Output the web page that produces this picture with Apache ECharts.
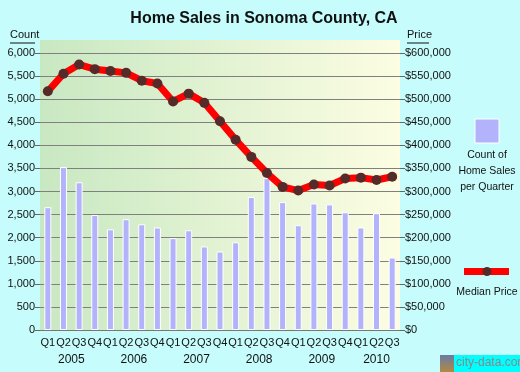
<!DOCTYPE html>
<html><head><meta charset="utf-8">
<script src="https://cdn.jsdelivr.net/npm/echarts@6/dist/echarts.min.js"></script>
<style>html,body{margin:0;padding:0;background:#c6fcfc}#c{width:520px;height:372px}</style>
</head><body><div id="c"></div>
<script>
const quarters = ['Q1','Q2','Q3','Q4','Q1','Q2','Q3','Q4','Q1','Q2','Q3','Q4','Q1','Q2','Q3','Q4','Q1','Q2','Q3','Q4','Q1','Q2','Q3'];
const years = ['2005','2006','2007','2008','2009','2010'];
const quartersPerYear = [4,4,4,4,4,3];
const salesCount = [2660,3530,3200,2490,2180,2400,2290,2220,1990,2160,1810,1700,1900,2880,3290,2770,2270,2740,2720,2550,2220,2530,1570];
const medianPrice = [517000,555000,575000,565000,561000,557000,540000,534000,495000,512000,492000,452000,412000,375000,340000,310000,302000,315000,313000,328000,330000,325000,332000];
const countTicks = {min:0, max:6000, interval:500};
const priceTicks = {min:0, max:600000, interval:50000};

const yearCenters = {};
let start = 0;
years.forEach((y,i)=>{ yearCenters[(start + quartersPerYear[i]/2).toFixed(1)] = y; start += quartersPerYear[i]; });

const font = 'Liberation Sans, Arial, sans-serif';
const chart = echarts.init(document.getElementById('c'));
chart.setOption({
  backgroundColor:'#c6fcfc',
  animation:false,
  title:{text:'Home Sales in Sonoma County, CA', left:259, top:6, textAlign:'center',
    textStyle:{fontFamily:font, fontSize:16, fontWeight:'bold', color:'#111'}},
  grid:{left:40, right:120, top:53, bottom:42},
  graphic:[
    {type:'rect', z:-100, shape:{x:40,y:40,width:360,height:290},
      style:{fill:new echarts.graphic.LinearGradient(0,0,1,0,[{offset:0,color:'#c8e8c2'},{offset:1,color:'#fcfde2'}])}},
    {type:'text', left:10, top:29, style:{text:'Count', font:'11px '+font, fill:'#111'}},
    {type:'line', shape:{x1:10,y1:43,x2:35,y2:43}, style:{stroke:'#111', lineWidth:1}},
    {type:'text', left:407, top:29, style:{text:'Price', font:'11px '+font, fill:'#111'}},
    {type:'line', shape:{x1:407,y1:43,x2:429,y2:43}, style:{stroke:'#111', lineWidth:1}},
    {type:'rect', shape:{x:475,y:119,width:24,height:24}, style:{fill:'#b3b3fb', stroke:'#fff', lineWidth:1}},
    {type:'text', x:487, y:147, style:{text:'Count of\nHome Sales\nper Quarter', font:'10.5px '+font, fill:'#111', align:'center', lineHeight:16}},
    {type:'rect', shape:{x:464,y:268,width:45,height:7}, style:{fill:'#ff0000'}},
    {type:'circle', shape:{cx:487,cy:271.5,r:4.5}, style:{fill:'#552a28'}},
    {type:'text', x:487, y:287, style:{text:'Median Price', font:'10.5px '+font, fill:'#111', align:'center'}},
    {type:'rect', shape:{x:440,y:355,width:14,height:17}, style:{fill:new echarts.graphic.LinearGradient(0,0,0,1,[{offset:0,color:'#6a7aa8'},{offset:1,color:'#b08a40'}])}},
    {type:'rect', shape:{x:454,y:355,width:66,height:17}, style:{fill:'#00ffff'}},
    {type:'text', x:456, y:357, style:{text:'city-data.com', font:'12px '+font, fill:'#888'}}
  ],
  xAxis:[
    {type:'category', data:quarters, boundaryGap:true,
      axisLine:{lineStyle:{color:'#777'}},
      axisTick:{length:5, interval:(i)=>i%3===0, lineStyle:{color:'#555'}},
      axisLabel:{interval:0, fontFamily:font, fontSize:11, color:'#111', margin:7}},
    {type:'value', min:0, max:quarters.length, interval:0.5, position:'bottom', offset:17,
      axisLine:{show:false}, axisTick:{show:false}, splitLine:{show:false},
      axisLabel:{showMinLabel:true, showMaxLabel:true, fontFamily:font, fontSize:12, color:'#111', margin:7,
        formatter:(v)=>yearCenters[v.toFixed(1)]||''}}
  ],
  yAxis:[
    {type:'value', min:countTicks.min, max:countTicks.max, interval:countTicks.interval, position:'left',
      axisLine:{show:false}, axisTick:{show:true, length:5, lineStyle:{color:'#666'}},
      splitLine:{lineStyle:{color:'#808080', width:1}},
      axisLabel:{fontFamily:font, fontSize:11, color:'#111', margin:5,
        formatter:(v)=>v.toLocaleString('en-US')}},
    {type:'value', min:priceTicks.min, max:priceTicks.max, interval:priceTicks.interval, position:'right',
      axisLine:{show:false}, axisTick:{show:true, length:5, lineStyle:{color:'#666'}},
      splitLine:{show:false},
      axisLabel:{fontFamily:font, fontSize:11, color:'#111', margin:5,
        formatter:(v)=>'$'+v.toLocaleString('en-US')}}
  ],
  series:[
    {type:'bar', data:salesCount, xAxisIndex:0, yAxisIndex:0, barWidth:7,
      itemStyle:{color:'#b3b3fb', borderColor:'#fff', borderWidth:1}},
    {type:'line', data:medianPrice, xAxisIndex:0, yAxisIndex:1, z:5,
      lineStyle:{color:'#ff0000', width:7}, symbol:'circle', symbolSize:10,
      itemStyle:{color:'#552a28', borderWidth:0}}
  ]
});
</script></body></html>
